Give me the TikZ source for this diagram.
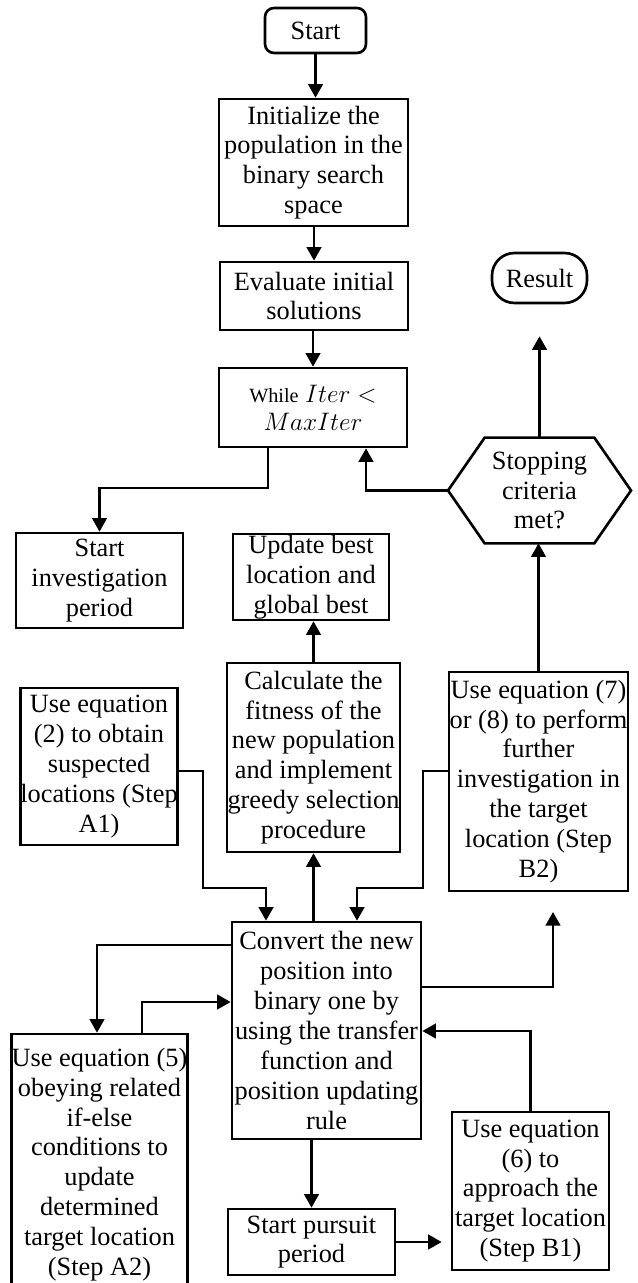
\documentclass[tikz,border=0pt]{standalone}
\usepackage{fontspec}
\setmainfont{Liberation Serif}
\usetikzlibrary{arrows.meta}
\begin{document}
\begin{tikzpicture}[x=0.02cm,y=-0.02cm,
  every node/.style={font=\fontsize{15}{17}\selectfont, align=center, inner sep=0pt},
  box/.style={draw, line width=1.5pt, rectangle},
  term/.style={draw, line width=1.5pt, rectangle, rounded corners=#1},
  conn/.style={line width=1.4pt, -{Triangle[width=0.29cm,length=0.27cm]}}]
\clip (0,0) rectangle (637,1283);

\node[term=0.18cm, minimum width=2.02cm, minimum height=0.90cm] (start) at (315.5,30.5) {Start};
\node[box, minimum width=3.78cm, minimum height=2.54cm] (init) at (313.5,162.5) {Initialize the\\population in the\\binary search\\space};
\node[box, minimum width=3.76cm, minimum height=1.36cm] (eval) at (314,296) {Evaluate initial\\solutions};
\node[box, minimum width=3.76cm, minimum height=1.58cm] (while) at (313,407.5) {{\fontsize{11.5}{13}\selectfont While} $Iter<$\\[-1pt]$MaxIter$};
\node[term=0.45cm, minimum width=1.90cm, minimum height=1.00cm] (res) at (539.5,278) {Result};

% hexagon
\node[minimum width=2.18cm, minimum height=2.10cm] (hex) at (539.5,490.5) {Stopping\\criteria\\met?};
\coordinate (hexL) at (448,490.5);
\coordinate (hexR) at (631,490.5);
\draw[line width=1.5pt] (hex.north west) -- (hex.north east) -- (hexR) -- (hex.south east) -- (hex.south west) -- (hexL) -- cycle;

\node[box, minimum width=3.34cm, minimum height=1.90cm] (inv) at (99.5,580.5) {Start\\investigation\\period};
\node[box, minimum width=3.12cm, minimum height=1.72cm] (upd) at (311,577) {Update best\\location and\\global best};
\node[box, minimum width=3.46cm, minimum height=3.78cm] (calc) at (313.5,757.5) {Calculate the\\fitness of the\\new population\\and implement\\greedy selection\\procedure};
\node[box, minimum width=3.12cm, minimum height=3.14cm] (eqA) at (99,766.5) {Use equation\\(2) to obtain\\suspected\\locations (Step\\A1)};
\node[box, minimum width=3.58cm, minimum height=4.38cm] (eqBB) at (538.5,781.5) {Use equation (7)\\or (8) to perform\\further\\investigation in\\the target\\location (Step\\B2)};
\node[box, minimum width=3.78cm, minimum height=4.34cm] (conv) at (326.5,1030.5) {Convert the new\\position into\\binary one by\\using the transfer\\function and\\position updating\\rule};
\node[box, minimum width=3.30cm, minimum height=5.22cm] (eqAA) at (99.5,1164.5) {Use equation (5)\\obeying related\\if-else\\conditions to\\update\\determined\\target location\\(Step A2)};
\node[box, minimum width=3.14cm, minimum height=3.16cm] (eqB) at (530.5,1191) {Use equation\\(6) to\\approach the\\target location\\(Step B1)};
\node[box, minimum width=3.34cm, minimum height=1.32cm] (purs) at (311.5,1242) {Start pursuit\\period};

\coordinate (freeR) at (553,912);

% connectors
\draw[conn] (start.south) -- (start.south |- init.north);
\draw[conn] (eval.north |- init.south) -- (eval.north);
\draw[conn] (while.north |- eval.south) -- (while.north);
\draw[conn] (268,0 |- while.south) -- (268,488) -| (inv.north);
\draw[conn] (hexL) -- (366,490.5) -- (366,0 |- while.south);
\draw[conn, shorten >=0.64cm] (hex.north) -- (hex.north |- res.south);
\draw[conn] (eqBB.north) -- (eqBB.north |- hex.south);
\draw[conn] (eqBB.west |- 0,771) -- (423,771) -- (423,888) -- (357,888) -- (357,0 |- conv.north);
\draw[conn] (eqA.east |- 0,771) -- (203,771) -- (203,888) -- (266,888) -- (266,0 |- conv.north);
\draw[conn] (calc.south |- conv.north) -- (calc.south);
\draw[conn] (calc.north) -- (calc.north |- upd.south);
\draw[conn] (conv.west |- 0,945) -- (97,945) -- (97,0 |- eqAA.north);
\draw[conn] (142,0 |- eqAA.north) -- (142,1002) -- (conv.west |- 0,1002);
\draw[conn] (conv.east |- 0,987) -- (553,987) -- (freeR);
\draw[conn] (eqB.north) -- (eqB.north |- 0,1031) -- (conv.east |- 0,1031);
\draw[conn] (purs.north |- conv.south) -- (purs.north);
\draw[conn, shorten >=0.18cm] (purs.east) -- (eqB.west |- purs.east);
\end{tikzpicture}
\end{document}
